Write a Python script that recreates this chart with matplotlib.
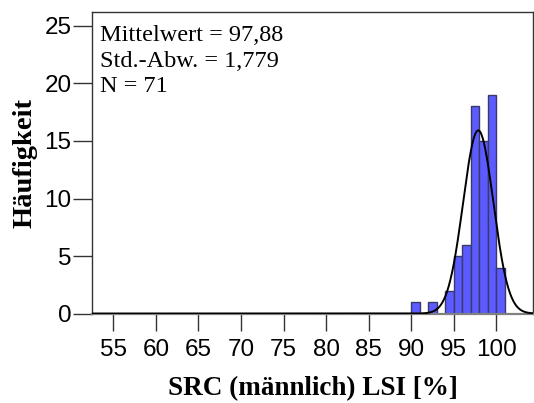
import numpy as np
import matplotlib
matplotlib.use("Agg")
import matplotlib.pyplot as plt

# histogram of LSI values, bin width 1 %
bin_edges = [90, 91, 92, 93, 94, 95, 96, 97, 98, 99, 100, 101]
counts = [1, 0, 1, 0, 2, 5, 6, 18, 15, 19, 4]
mean = 97.88
sd = 1.779
n = 71
xticks = [55, 60, 65, 70, 75, 80, 85, 90, 95, 100]
yticks = [0, 5, 10, 15, 20, 25]

fig = plt.figure(figsize=(5.34, 4.03), dpi=100)
ax = fig.add_axes([0.1717, 0.222, 0.827, 0.749])

lefts = np.array(bin_edges[:-1])
widths = np.diff(bin_edges)
ax.bar(lefts, counts, width=widths, align='edge', color='#5b5bff',
       edgecolor='#3a3a6a', linewidth=1.0, zorder=2)

# normal curve scaled to the counts
xs = np.linspace(52.46, 104.35, 800)
ys = n * 1.0 / (sd * np.sqrt(2 * np.pi)) * np.exp(-0.5 * ((xs - mean) / sd) ** 2)
ax.plot(xs, ys, color='black', linewidth=1.4, zorder=3)

ax.set_xlim(52.46, 104.35)
ax.set_ylim(0, 26.24)
ax.set_xticks(xticks)
ax.set_yticks(yticks)
ax.tick_params(axis='both', direction='out', width=1.0,
               color='#333333', labelsize=17.5)
ax.tick_params(axis='x', length=12, pad=6)
ax.tick_params(axis='y', length=13.5, pad=1)
for lbl in ax.get_xticklabels() + ax.get_yticklabels():
    lbl.set_fontfamily('Liberation Sans')
for s in ax.spines.values():
    s.set_color('#333333')
    s.set_linewidth(1.0)
ax.spines['bottom'].set_color('#808080')
ax.spines['bottom'].set_linewidth(1.6)

ax.set_xlabel('SRC (männlich) LSI [%]', fontfamily='Liberation Serif',
              fontweight='bold', fontsize=19.5, labelpad=11)
ax.set_ylabel('Häufigkeit', fontfamily='Liberation Serif',
              fontweight='bold', fontsize=20.5, labelpad=5)

stats = ['Mittelwert = ' + f'{mean:.2f}'.replace('.', ','),
         'Std.-Abw. = ' + f'{sd:.3f}'.replace('.', ','),
         f'N = {n}']
ax.text(0.019, 0.955, '\n'.join(stats),
        transform=ax.transAxes, va='top', ha='left',
        fontfamily='Liberation Serif', fontsize=17.5, linespacing=1.27)

fig.savefig('out.png', dpi=100)
